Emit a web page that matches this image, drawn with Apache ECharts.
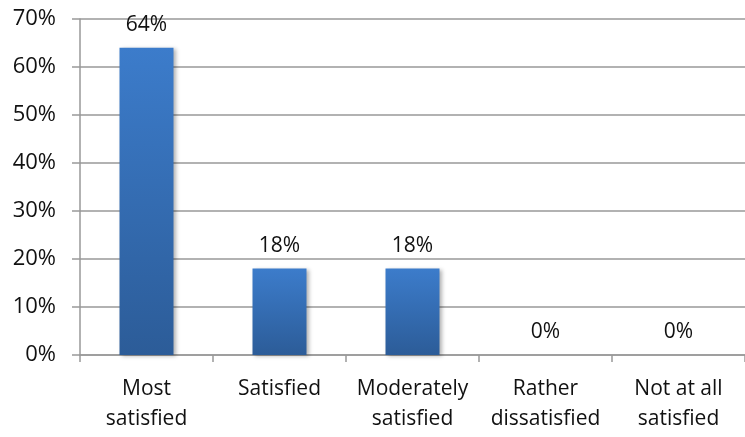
<!DOCTYPE html>
<html>
<head>
<meta charset="utf-8">
<script src="https://cdn.jsdelivr.net/npm/echarts@6/dist/echarts.min.js"></script>
<style>
  html, body { margin: 0; padding: 0; background: #fff; }
  #chart { width: 745px; height: 437px; }
</style>
</head>
<body>
<div id="chart"></div>
<script>
  const categories = ['Most\nsatisfied', 'Satisfied', 'Moderately\nsatisfied', 'Rather\ndissatisfied', 'Not at all\nsatisfied']
  const values = [64, 18, 18, 0, 0]
  const yTicks = [0, 10, 20, 30, 40, 50, 60, 70]

  const font = 'Open Sans'
  const chart = echarts.init(document.getElementById('chart'))
  chart.setOption({
    animation: false,
    grid: { left: 80, right: -6, top: 19, bottom: 82 },
    xAxis: {
      type: 'category',
      data: categories,
      axisLine: { lineStyle: { color: '#999', width: 1.5 } },
      axisTick: { show: true, length: 7, lineStyle: { color: '#999', width: 1.5 } },
      axisLabel: { color: '#111', fontFamily: font, fontSize: 21, lineHeight: 30, margin: 19, interval: 0 }
    },
    yAxis: {
      type: 'value',
      min: yTicks[0],
      max: yTicks[yTicks.length - 1],
      interval: 10,
      axisLine: { show: true, lineStyle: { color: '#999', width: 1.5 } },
      axisTick: { show: true, length: 8, lineStyle: { color: '#999', width: 1.5 } },
      splitLine: { lineStyle: { color: '#999', width: 1.5 } },
      axisLabel: { color: '#111', fontFamily: font, fontSize: 22, margin: 24, formatter: '{value}%' }
    },
    series: [{
      type: 'bar',
      data: values,
      barWidth: 54,
      itemStyle: {
        color: new echarts.graphic.LinearGradient(0, 0, 0, 1, [
          { offset: 0, color: '#3c7ccb' },
          { offset: 1, color: '#2c5c98' }
        ]),
        shadowColor: 'rgba(0,0,0,0.3)',
        shadowBlur: 4,
        shadowOffsetX: 2,
        shadowOffsetY: 1
      },
      label: {
        show: true,
        position: 'top',
        distance: 12,
        color: '#111',
        fontFamily: font,
        fontSize: 21,
        formatter: '{c}%'
      }
    }]
  })
</script>
</body>
</html>
